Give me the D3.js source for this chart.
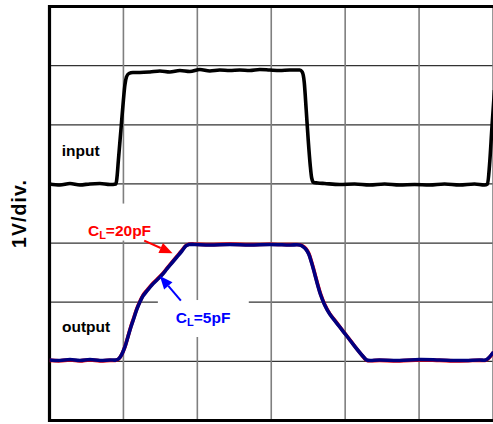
<!DOCTYPE html>
<html>
<head>
<meta charset="utf-8">
<script src="https://cdn.jsdelivr.net/npm/d3@7"></script>
<style>
  body { margin: 0; background: #fff; }
  text { font-family: Arial, "Liberation Sans", sans-serif; font-weight: bold; }
</style>
</head>
<body>
<svg id="chart" width="493" height="424"></svg>
<script>
// scope trace, time and voltage in divisions (1V/div.)
var inT = [0, 0.142, 0.277, 0.412, 0.547, 0.682, 0.818, 0.899, 0.912, 0.932, 0.966, 1.0, 1.020, 1.041, 1.074, 1.128,
  1.223, 1.358, 1.493, 1.628, 1.764, 1.899, 2.034, 2.169, 2.304, 2.439, 2.574, 2.709, 2.845, 2.980, 3.115, 3.250,
  3.385, 3.419, 3.446, 3.473, 3.5, 3.527, 3.547, 3.574, 3.628, 3.723, 3.926, 4.128, 4.331, 4.534, 4.736, 4.939,
  5.142, 5.345, 5.547, 5.750, 5.885, 5.926, 5.953, 5.986, 6.02];
var inV = [4.0, 3.983, 4.007, 3.983, 4.0, 4.007, 3.99, 4.0, 4.10, 4.404, 4.911, 5.419, 5.673, 5.808, 5.867, 5.884,
  5.884, 5.893, 5.910, 5.893, 5.918, 5.901, 5.935, 5.910, 5.926, 5.918, 5.926, 5.918, 5.935, 5.926, 5.918, 5.926,
  5.926, 5.893, 5.724, 5.250, 4.743, 4.320, 4.100, 4.024, 4.016, 4.007, 3.990, 4.0, 3.983, 4.0, 3.983, 3.990,
  3.983, 4.0, 3.983, 4.0, 3.983, 4.0, 4.32, 4.963, 5.588];

var outT = [0, 0.142, 0.277, 0.412, 0.547, 0.682, 0.818, 0.899, 0.939, 0.980, 1.020, 1.061, 1.101, 1.142, 1.182,
  1.223, 1.264, 1.318, 1.385, 1.453, 1.520, 1.588, 1.655, 1.723, 1.791, 1.845, 1.885, 1.966, 2.169, 2.439, 2.709,
  2.980, 3.250, 3.385, 3.426, 3.466, 3.507, 3.547, 3.588, 3.628, 3.669, 3.723, 3.791, 3.885, 3.980, 4.074, 4.169,
  4.250, 4.291, 4.466, 4.736, 5.007, 5.277, 5.547, 5.818, 5.899, 5.939, 6.007];
var out5pF = [1.023, 1.014, 1.031, 1.014, 1.031, 1.014, 1.023, 1.023, 1.048, 1.124, 1.243, 1.412, 1.581, 1.733, 1.884,
  2.004, 2.105, 2.190, 2.291, 2.375, 2.459, 2.562, 2.663, 2.764, 2.866, 2.951, 2.976, 2.976, 2.967, 2.976, 2.967,
  2.976, 2.967, 2.967, 2.942, 2.900, 2.815, 2.663, 2.477, 2.291, 2.122, 1.953, 1.800, 1.648, 1.496, 1.344, 1.192,
  1.073, 1.023, 1.023, 1.014, 1.031, 1.023, 1.014, 1.023, 1.023, 1.057, 1.158];
var out20pF = [1.016, 1.009, 1.024, 1.008, 1.025, 1.008, 1.017, 1.017, 1.044, 1.122, 1.245, 1.418, 1.589, 1.742, 1.893,
  2.014, 2.116, 2.201, 2.301, 2.384, 2.468, 2.571, 2.672, 2.773, 2.875, 2.958, 2.981, 2.981, 2.973, 2.982, 2.973,
  2.981, 2.973, 2.973, 2.950, 2.909, 2.826, 2.676, 2.491, 2.304, 2.134, 1.962, 1.807, 1.654, 1.500, 1.347, 1.192,
  1.070, 1.017, 1.016, 1.008, 1.025, 1.016, 1.008, 1.017, 1.017, 1.051, 1.154];

var xTicks = [0, 1, 2, 3, 4, 5, 6];
var yTicks = [0, 1, 2, 3, 4, 5, 6, 7];

var svg = d3.select("svg"),
    margin = {top: 6.5, left: 49.5, right: 0, bottom: 3.5},
    pLeft = margin.left, pRight = 493,
    pTop = margin.top, pBottom = +svg.attr("height") - margin.bottom;

var x = d3.scaleLinear().domain([0, 6]).range([pLeft, pRight]),
    y = d3.scaleLinear().domain([0, 7]).range([pBottom, pTop]);

svg.append("rect").attr("width", 493).attr("height", 424).attr("fill", "#fff");

svg.append("defs").append("clipPath").attr("id", "plot")
  .append("rect").attr("x", pLeft).attr("y", pTop).attr("width", pRight - pLeft + 2).attr("height", pBottom - pTop);

// grid
svg.append("g").selectAll("line").data(yTicks.slice(1, -1)).enter().append("line")
    .attr("x1", pLeft).attr("x2", pRight + 2)
    .attr("y1", function(d) { return y(d); }).attr("y2", function(d) { return y(d); })
    .attr("stroke", "#333").attr("stroke-width", 1.2);
svg.append("g").selectAll("line").data(xTicks.slice(1)).enter().append("line")
    .attr("x1", function(d) { return x(d); }).attr("x2", function(d) { return x(d); })
    .attr("y1", pTop).attr("y2", pBottom)
    .attr("stroke", "#7f7f7f").attr("stroke-width", 1.6);

// white patches behind the load labels
var boxes = [{t0: 0.318, t1: 1.80, v0: 3.042, v1: 3.668}, {t0: 1.466, t1: 2.696, v0: 1.412, v1: 2.037}];
svg.append("g").selectAll("rect").data(boxes).enter().append("rect")
    .attr("x", function(d) { return x(d.t0); })
    .attr("y", function(d) { return y(d.v1); })
    .attr("width", function(d) { return x(d.t1) - x(d.t0); })
    .attr("height", function(d) { return y(d.v0) - y(d.v1); })
    .attr("fill", "#fff");

// frame (top, left, bottom)
svg.append("path")
    .attr("d", "M" + (pRight + 3) + "," + pTop + "H" + pLeft + "V" + pBottom + "H" + (pRight + 3))
    .attr("fill", "none").attr("stroke", "#000").attr("stroke-width", 3.2);

var stepLine = d3.line()
    .x(function(d) { return x(d[0]); })
    .y(function(d) { return y(d[1]); })
    .curve(d3.curveMonotoneX);
var smoothLine = d3.line()
    .x(function(d) { return x(d[0]); })
    .y(function(d) { return y(d[1]); })
    .curve(d3.curveCatmullRom.alpha(0.5));

var traces = svg.append("g").attr("clip-path", "url(#plot)");

traces.append("path").datum(d3.zip(inT, inV)).attr("d", stepLine)
    .attr("fill", "none").attr("stroke", "#000").attr("stroke-width", 3.6).attr("stroke-linejoin", "round");
traces.append("path").datum(d3.zip(outT, out20pF)).attr("d", smoothLine)
    .attr("fill", "none").attr("stroke", "#ff0000").attr("stroke-width", 3.6).attr("stroke-linejoin", "round");
traces.append("path").datum(d3.zip(outT, out5pF)).attr("d", smoothLine)
    .attr("fill", "none").attr("stroke", "#000080").attr("stroke-width", 3.6).attr("stroke-linejoin", "round");

// labels
svg.append("text").attr("x", x(0.165)).attr("y", y(4.472)).style("font-size", "15.5px").attr("fill", "#000").text("input");
svg.append("text").attr("x", x(0.169)).attr("y", y(1.501)).style("font-size", "15.5px").attr("fill", "#000").text("output");

function loadLabel(t, v, color, value) {
  var txt = svg.append("text").attr("x", x(t)).attr("y", y(v)).attr("fill", color).style("font-size", "15.5px");
  txt.append("tspan").text("C");
  txt.append("tspan").attr("dy", 3).style("font-size", "11px").text("L");
  txt.append("tspan").attr("dy", -3).text("=" + value);
}
loadLabel(0.520, 3.120, "#ff0000", "20pF");
loadLabel(1.709, 1.649, "#0000ff", "5pF");

// arrows
var arrows = [
  {t0: 1.281, v0: 3.040, t1: 1.665, v1: 2.827, color: "#ff0000"},
  {t0: 1.777, v0: 2.026, t1: 1.493, v1: 2.443, color: "#0000ff"}
];
arrows.forEach(function(a) {
  var x0 = x(a.t0), y0 = y(a.v0), x1 = x(a.t1), y1 = y(a.v1);
  var dx = x1 - x0, dy = y1 - y0, len = Math.sqrt(dx * dx + dy * dy);
  var ux = dx / len, uy = dy / len, hl = 13, hw = 5.5;
  var bx = x1 - ux * hl, by = y1 - uy * hl;
  svg.append("line").attr("x1", x0).attr("y1", y0).attr("x2", bx).attr("y2", by)
      .attr("stroke", a.color).attr("stroke-width", 2);
  svg.append("path")
      .attr("d", "M" + x1 + "," + y1 + "L" + (bx - uy * hw) + "," + (by + ux * hw) + "L" + (bx + uy * hw) + "," + (by - ux * hw) + "Z")
      .attr("fill", a.color);
});

// axis title
svg.append("text")
    .attr("transform", "translate(25.5," + ((pTop + pBottom) / 2 + 0.5) + ") rotate(-90)")
    .attr("text-anchor", "middle")
    .attr("textLength", 68).attr("lengthAdjust", "spacing")
    .style("font-size", "19.5px")
    .text("1V/div.");
</script>
</body>
</html>
